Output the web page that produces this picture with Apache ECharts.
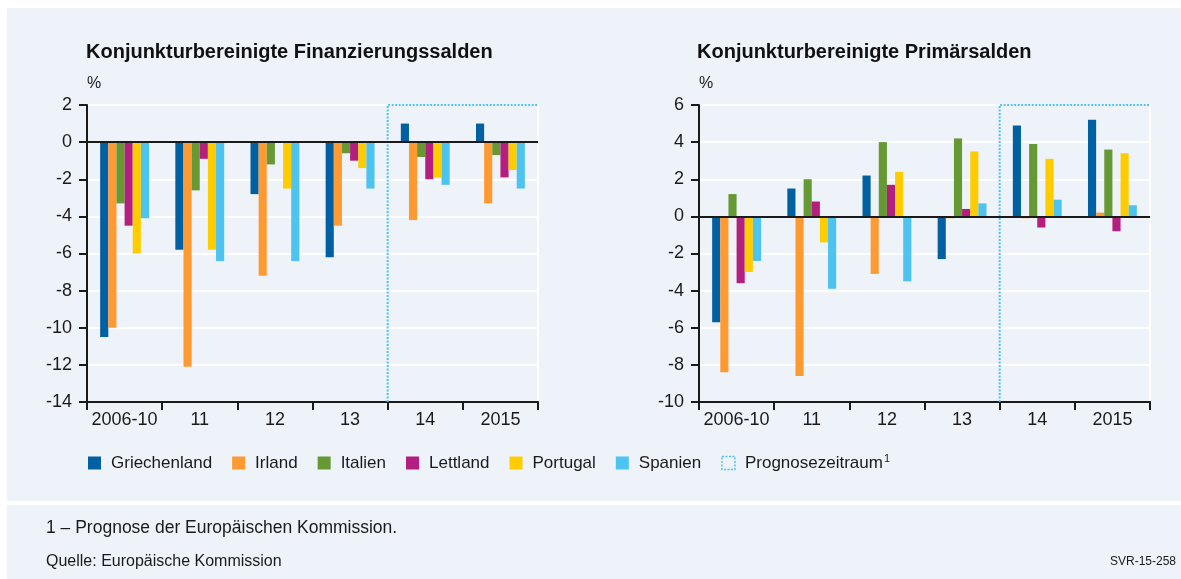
<!DOCTYPE html>
<html>
<head>
<meta charset="utf-8">
<script src="https://cdn.jsdelivr.net/npm/echarts@6/dist/echarts.min.js"></script>
<style>
html,body{margin:0;padding:0;background:#fff;}
#chart{width:1181px;height:579px;}
</style>
</head>
<body>
<div id="chart"></div>
<script>
// ---- data ----
const categories = ['2006-10', '11', '12', '13', '14', '2015'];
const countries = ['Griechenland', 'Irland', 'Italien', 'Lettland', 'Portugal', 'Spanien'];
const forecastLabel = 'Prognosezeitraum';
const forecastStart = 4; // index of '14'

// Konjunkturbereinigte Finanzierungssalden (%)
const fin_Griechenland = [-10.5, -5.8, -2.8, -6.2, 1.0, 1.0];
const fin_Irland       = [-10.0, -12.1, -7.2, -4.5, -4.2, -3.3];
const fin_Italien      = [-3.3, -2.6, -1.2, -0.6, -0.8, -0.7];
const fin_Lettland     = [-4.5, -0.9, 0.0, -1.0, -2.0, -1.9];
const fin_Portugal     = [-6.0, -5.8, -2.5, -1.4, -1.9, -1.5];
const fin_Spanien      = [-4.1, -6.4, -6.4, -2.5, -2.3, -2.5];

// Konjunkturbereinigte Primärsalden (%)
const pri_Griechenland = [-5.7, 1.5, 2.2, -2.3, 4.9, 5.2];
const pri_Irland       = [-8.4, -8.6, -3.1, -0.1, -0.1, 0.2];
const pri_Italien      = [1.2, 2.0, 4.0, 4.2, 3.9, 3.6];
const pri_Lettland     = [-3.6, 0.8, 1.7, 0.4, -0.6, -0.8];
const pri_Portugal     = [-3.0, -1.4, 2.4, 3.5, 3.1, 3.4];
const pri_Spanien      = [-2.4, -3.9, -3.5, 0.7, 0.9, 0.6];

const finTicks = {min: -14, max: 2, interval: 2};
const priTicks = {min: -10, max: 6, interval: 2};

const titles = ['Konjunkturbereinigte Finanzierungssalden', 'Konjunkturbereinigte Primärsalden'];
const unitLabel = '%';
const footnote = '1 – Prognose der Europäischen Kommission.';
const source = 'Quelle: Europäische Kommission';
const code = 'SVR-15-258';

// ---- styling ----
const colors = ['#0060a2', '#ff9a33', '#669933', '#b41f7f', '#ffcc00', '#4dc3f0'];
const forecastColor = '#4dc3f0';
const panelColor = '#eef3f9';
const textColor = '#1a1a1a';
const fontFamily = 'Liberation Sans, Arial, sans-serif';
const titleFont = 'Liberation Sans Narrow, Arial Narrow, sans-serif';

const finData = [fin_Griechenland, fin_Irland, fin_Italien, fin_Lettland, fin_Portugal, fin_Spanien];
const priData = [pri_Griechenland, pri_Irland, pri_Italien, pri_Lettland, pri_Portugal, pri_Spanien];

const chart = echarts.init(document.getElementById('chart'), null, {renderer: 'canvas'});

const grids = [
  {left: 87, width: 451, top: 105, height: 297, show: true, borderColor: '#ffffff', borderWidth: 2, backgroundColor: 'transparent'},
  {left: 699, width: 451, top: 105, height: 297, show: true, borderColor: '#ffffff', borderWidth: 2, backgroundColor: 'transparent'}
];

function xAxisFor(i) {
  return {
    type: 'category', gridIndex: i, data: categories,
    axisLine: {onZero: false, lineStyle: {color: '#1a1a1a', width: 2}},
    axisTick: {show: true, interval: 0, length: 8, inside: false, lineStyle: {color: '#1a1a1a', width: 2}},
    axisLabel: {interval: 0, color: textColor, fontSize: 18, fontFamily: fontFamily, margin: 9},
    splitLine: {show: false}
  };
}
function yAxisFor(i, t) {
  return {
    type: 'value', gridIndex: i, min: t.min, max: t.max, interval: t.interval,
    axisLine: {show: true, lineStyle: {color: '#1a1a1a', width: 2}},
    axisTick: {show: true, length: 8, lineStyle: {color: '#1a1a1a', width: 2}},
    axisLabel: {color: textColor, fontSize: 18, fontFamily: fontFamily, margin: 15},
    splitLine: {show: true, lineStyle: {color: '#ffffff', width: 2}}
  };
}

function forecastRender(t) {
  return function (params, api) {
    const bw = api.size([1, 0])[0];
    const topLeft = api.coord([api.value(0), t.max]);
    const bottom = api.coord([api.value(0), t.min])[1];
    const right = api.coord([categories.length - 1, t.max])[0] + bw / 2;
    const left = topLeft[0] - bw / 2;
    return {
      type: 'polyline',
      shape: {points: [[left, bottom], [left, topLeft[1]], [right, topLeft[1]]]},
      style: {stroke: forecastColor, lineWidth: 2, lineDash: [2, 1.5], fill: null}
    };
  };
}

const series = [];
[finData, priData].forEach(function (set, gi) {
  set.forEach(function (vals, ci) {
    const s = {
      name: countries[ci], type: 'bar', xAxisIndex: gi, yAxisIndex: gi,
      data: vals, barGap: '0%', barCategoryGap: '35%',
      itemStyle: {color: colors[ci]}, silent: true, z: 3
    };
    if (ci === 0) {
      s.markLine = {
        silent: true, symbol: ['none', 'none'], label: {show: false},
        lineStyle: {color: '#1a1a1a', width: 2, type: 'solid'},
        data: [{yAxis: 0}], animation: false, z: 5
      };
    }
    series.push(s);
  });
  series.push({
    name: forecastLabel, type: 'custom', xAxisIndex: gi, yAxisIndex: gi,
    data: [[forecastStart, 0]], renderItem: forecastRender(gi === 0 ? finTicks : priTicks),
    silent: true, z: 4, itemStyle: {color: 'transparent', borderColor: forecastColor}
  });
});

const legendData = countries.map(function (n) { return {name: n, icon: 'rect'}; });
legendData.push({
  name: forecastLabel, icon: 'rect',
  itemStyle: {color: 'transparent', borderColor: forecastColor, borderWidth: 1.5, borderType: [2, 1.5]}
});

chart.setOption({
  animation: false,
  backgroundColor: '#ffffff',
  color: colors,
  textStyle: {fontFamily: fontFamily},
  graphic: [
    {type: 'rect', left: 7, top: 8, shape: {width: 1174, height: 493}, style: {fill: panelColor}, z: -10, silent: true},
    {type: 'rect', left: 7, top: 505, shape: {width: 1174, height: 74}, style: {fill: panelColor}, z: -10, silent: true},
    {type: 'text', left: 87, top: 76, style: {text: unitLabel, fill: textColor, font: '16px ' + fontFamily}},
    {type: 'text', left: 699, top: 76, style: {text: unitLabel, fill: textColor, font: '16px ' + fontFamily}},
    {type: 'text', left: 46, top: 519, style: {text: footnote, fill: textColor, font: '17.5px ' + fontFamily}},
    {type: 'text', left: 46, top: 554, style: {text: source, fill: textColor, font: '16px ' + fontFamily}},
    {type: 'text', right: 5, top: 556, style: {text: code, fill: textColor, font: '12px ' + fontFamily}}
  ],
  title: [
    {text: titles[0], left: 86, top: 42, padding: 0, textStyle: {color: '#111', fontSize: 20, fontWeight: 'bold', fontFamily: titleFont}},
    {text: titles[1], left: 697, top: 42, padding: 0, textStyle: {color: '#111', fontSize: 20, fontWeight: 'bold', fontFamily: titleFont}}
  ],
  legend: {
    left: 88, top: 453, padding: 0, itemWidth: 13, itemHeight: 13, itemGap: 20,
    selectedMode: false,
    data: legendData,
    textStyle: {color: textColor, fontSize: 17, fontFamily: fontFamily, padding: [0, 0, 0, 5],
      rich: {sup: {fontSize: 11, verticalAlign: 'top', padding: [0, 0, 9, 1], color: textColor, fontFamily: fontFamily}}},
    formatter: function (name) { return name === forecastLabel ? name + '{sup|1}' : name; }
  },
  grid: grids,
  xAxis: [xAxisFor(0), xAxisFor(1)],
  yAxis: [yAxisFor(0, finTicks), yAxisFor(1, priTicks)],
  series: series
});
</script>
</body>
</html>
